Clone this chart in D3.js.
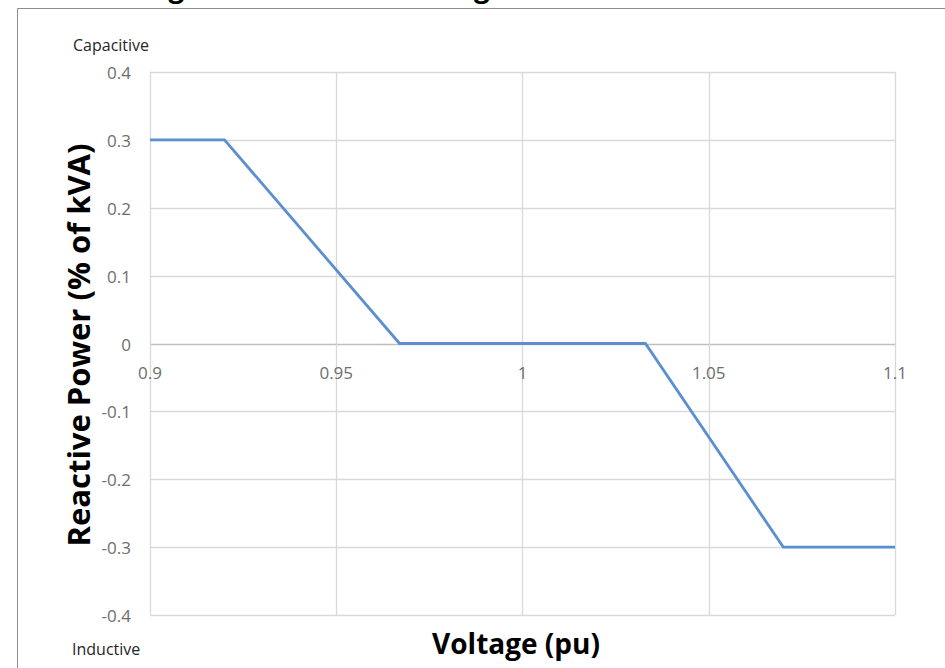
<!DOCTYPE html>
<html>
<head>
<meta charset="utf-8">
<script src="https://cdn.jsdelivr.net/npm/d3@7"></script>
<style>
  body { margin: 0; background: #fff; }
  svg { display: block; }
</style>
</head>
<body>
<svg width="945" height="668"></svg>
<script>
// volt-var curve points (voltage pu, reactive power)
var voltage = [0.9, 0.92, 0.967, 1.033, 1.07, 1.1];
var reactive = [0.3, 0.3, 0, 0, -0.3, -0.3];
var xTicks = [0.9, 0.95, 1, 1.05, 1.1];
var xTickLabels = ["0.9", "0.95", "1", "1.05", "1.1"];
var yTicks = [0.4, 0.3, 0.2, 0.1, 0, -0.1, -0.2, -0.3, -0.4];
var yTickLabels = ["0.4", "0.3", "0.2", "0.1", "0", "-0.1", "-0.2", "-0.3", "-0.4"];

var svg = d3.select("svg");
var font = "'Open Sans', 'Liberation Sans', sans-serif";

var x = d3.scaleLinear().domain([0.9, 1.1]).range([150, 895]);
var y = d3.scaleLinear().domain([-0.4, 0.4]).range([615, 72]);

// title of the page above, only its bottom edge shows
svg.append("text")
    .attr("x", 560).attr("y", -3)
    .attr("text-anchor", "middle")
    .style("font-family", font).style("font-weight", "bold")
    .style("font-size", "28px").attr("fill", "#000")
    .text("Figure 2: Volt-Var Settings for Inverters with Default Setting");

// outer frame
svg.append("path")
    .attr("d", "M17.5,668 L17.5,8.5 L945,8.5")
    .attr("fill", "none").attr("stroke", "#8c8c8c").attr("stroke-width", 1);

// grid
svg.append("g").selectAll("line")
    .data(yTicks).enter().append("line")
    .attr("x1", x(0.9)).attr("x2", x(1.1))
    .attr("y1", d => Math.round(y(d)) + 0.5).attr("y2", d => Math.round(y(d)) + 0.5)
    .attr("stroke", d => d === 0 ? "#bfbfbf" : "#d9d9d9")
    .attr("stroke-width", d => d === 0 ? 1.6 : 1.3);

svg.append("g").selectAll("line")
    .data(xTicks).enter().append("line")
    .attr("y1", y(0.4)).attr("y2", y(-0.4))
    .attr("x1", d => Math.round(x(d)) + 0.5).attr("x2", d => Math.round(x(d)) + 0.5)
    .attr("stroke", "#d9d9d9").attr("stroke-width", 1.3);

// tick labels
svg.append("g").selectAll("text")
    .data(yTicks).enter().append("text")
    .attr("x", 131).attr("y", d => y(d) + 7)
    .attr("text-anchor", "end")
    .style("font-family", font).style("font-size", "17px")
    .attr("fill", "#6e6e6e")
    .text((d, i) => yTickLabels[i]);

svg.append("g").selectAll("text")
    .data(xTicks).enter().append("text")
    .attr("x", d => x(d)).attr("y", y(0) + 35)
    .attr("text-anchor", "middle")
    .style("font-family", font).style("font-size", "17px")
    .attr("fill", "#6e6e6e")
    .text((d, i) => xTickLabels[i]);

// the curve
var pts = voltage.map((v, i) => [v, reactive[i]]);
var line = d3.line().x(d => x(d[0])).y(d => y(d[1]));
svg.append("path")
    .datum(pts)
    .attr("d", line)
    .attr("fill", "none")
    .attr("stroke", "#5b8fd0")
    .attr("stroke-width", 2.8)
    .attr("stroke-linejoin", "miter");

// axis titles
svg.append("text")
    .attr("transform", "translate(90,345) rotate(-90)")
    .attr("text-anchor", "middle")
    .style("font-family", font).style("font-weight", "bold")
    .style("font-size", "31px").attr("fill", "#000")
    .text("Reactive Power (% of kVA)");

svg.append("text")
    .attr("x", 516).attr("y", 654)
    .attr("text-anchor", "middle")
    .style("font-family", font).style("font-weight", "bold")
    .style("font-size", "28px").attr("fill", "#000")
    .text("Voltage (pu)");

svg.append("text")
    .attr("x", 73).attr("y", 51)
    .style("font-family", font).style("font-size", "16px")
    .attr("fill", "#262626")
    .text("Capacitive");

svg.append("text")
    .attr("x", 72).attr("y", 655)
    .style("font-family", font).style("font-size", "16px")
    .attr("fill", "#262626")
    .text("Inductive");
</script>
</body>
</html>
